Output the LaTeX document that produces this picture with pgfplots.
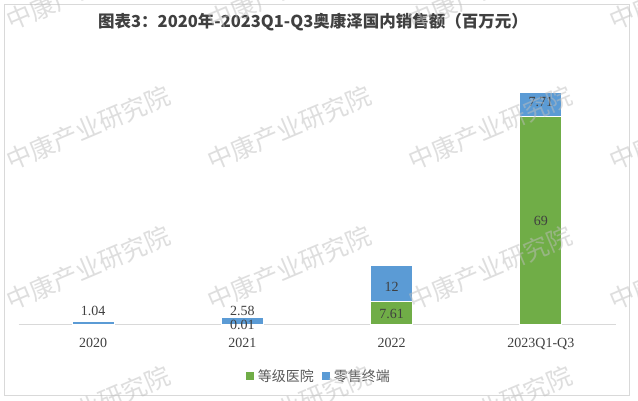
\documentclass[border=0pt]{standalone}
\usepackage{pgfplots}
\pgfplotsset{compat=1.18}
\usepackage{fontspec}
\setmainfont{Liberation Serif}
\newfontfamily\cjk{Noto Sans CJK SC}
\definecolor{cgreen}{RGB}{112,173,71}
\definecolor{cblue}{RGB}{91,155,213}
\definecolor{txtgray}{RGB}{64,64,64}
\definecolor{leggray}{RGB}{89,89,89}
\definecolor{axgray}{RGB}{217,217,217}
\definecolor{wmgray}{RGB}{190,190,190}
\begin{document}
\begin{tikzpicture}
\useasboundingbox (0pt,0pt) rectangle (638pt,401pt);
\fill[white] (0pt,0pt) rectangle (638pt,401pt);
\draw[axgray, line width=0.9pt] (4pt,6pt) rectangle (629.5pt,397pt);
\node[font=\cjk\bfseries\fontsize{16.5}{18}\selectfont, text=txtgray] at (313pt,379pt) {图表3：2020年-2023Q1-Q3奥康泽国内销售额（百万元）};
\begin{axis}[
  at={(18.5pt,76pt)}, anchor=south west,
  scale only axis, width=597pt, height=242.3pt,
  ybar stacked, bar width=42pt,
  xmin=-0.5, xmax=3.5, ymin=0, ymax=80,
  axis x line*=bottom, axis y line=none,
  x axis line style={axgray, line width=1pt, -},
  xtick={0,1,2,3},
  xticklabels={2020,2021,2022,2023Q1-Q3},
  major tick length=0pt,
  xticklabel style={font=\fontsize{14}{16}\selectfont, text=txtgray, yshift=-10pt},
  ytick=\empty,
  clip=false,
  legend style={draw=none, fill=none, legend columns=2, at={(0.503,-0.21)}, anchor=center,
    font=\cjk\fontsize{14}{16}\selectfont, text=leggray,
    /tikz/every odd column/.append style={column sep=2pt},
    /tikz/every even column/.append style={column sep=6pt},
    legend cell align=left},
]
\addplot[fill=cgreen, draw=white, line width=1pt,
  legend image code/.code={\fill[cgreen] (0pt,-3.5pt) rectangle (7pt,3.5pt);}]
  coordinates {(0,0) (1,0.01) (2,7.61) (3,69)};
\addplot[fill=cblue, draw=white, line width=1pt,
  legend image code/.code={\fill[cblue] (0pt,-3.5pt) rectangle (7pt,3.5pt);}]
  coordinates {(0,1.04) (1,2.58) (2,12) (3,7.71)};
\legend{等级医院,零售终端}
\end{axis}
\begin{axis}[
  at={(18.5pt,76pt)}, anchor=south west,
  scale only axis, width=597pt, height=242.3pt,
  xmin=-0.5, xmax=3.5, ymin=0, ymax=80,
  hide axis, clip=false,
]
\addplot[draw=none, mark=none, nodes near coords, point meta=explicit symbolic,
  every node near coord/.append style={anchor=center, font=\fontsize{14}{16}\selectfont, text=txtgray}]
  coordinates {(0,4.6)[1.04] (1,4.8)[2.58] (1,0.0)[0.01] (2,12.5)[12] (2,3.6)[7.61] (3,34.3)[69] (3,73.6)[7.71]};
\end{axis}
\begin{scope}
\clip (0pt,0pt) rectangle (638pt,401pt);
\foreach \cx in {88,289,490,691}{
  \foreach \cy in {-12,128,268,408}{
    \node[rotate=23, font=\cjk\fontsize{25}{27}\selectfont, text=wmgray, opacity=0.5] at (\cx pt,401pt-\cy pt) {中康产业研究院};
  }
}
\end{scope}
\end{tikzpicture}
\end{document}
